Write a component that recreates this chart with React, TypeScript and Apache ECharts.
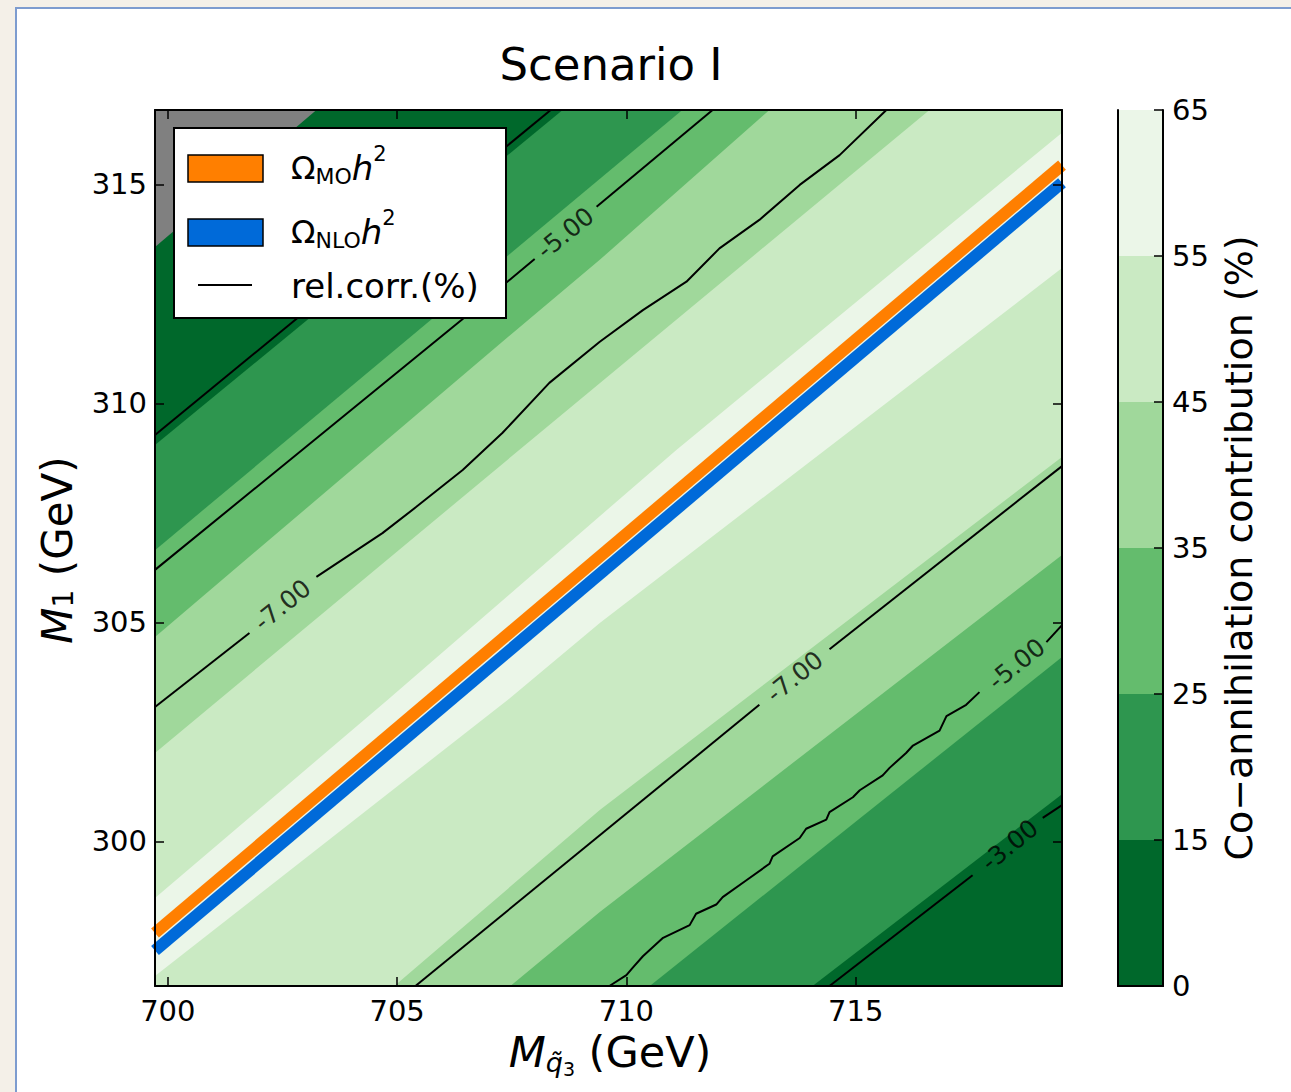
import React, { useEffect, useRef } from 'react';
import * as echarts from 'echarts';

const FONT = "'DejaVu Sans', 'Liberation Sans', sans-serif";

// ---- axes ----
const X_RANGE = [699.72, 719.5];
const Y_RANGE = [296.7, 316.7];
const X_TICKS = [700, 705, 710, 715];
const Y_TICKS = [300, 305, 310, 315];

// ---- colour bar ----
const LEVEL_LABELS = ['0', '15', '25', '35', '45', '55', '65'];
const LEVEL_COLORS = ['#00682b', '#2e964f', '#64bc6d', '#a0d89b', '#caeac3', '#ebf6e8'];
const MASK_COLOR = '#808080';

// ---- filled-contour boundaries (data coords) ----
// upper-left side: from left edge to top/right edge
const UPPER_15 = [[699.72, 309.05], [708.61, 316.7]];
const UPPER_25 = [[699.72, 306.65], [711.22, 316.7]];
const UPPER_35 = [[699.72, 304.67], [707.6, 311.68], [709.42, 313.28], [713.12, 316.7]];
const UPPER_45 = [[699.72, 302.02], [708.32, 309.51], [716.61, 316.7]];
const UPPER_55 = [[699.72, 298.71], [704.79, 303.23], [711.09, 308.94], [719.5, 316.18]];
// lower-right side: from bottom/left edge to right edge
const LOWER_55 = [[699.72, 296.93], [707.41, 303.23], [709.42, 304.99], [719.5, 313.09]];
const LOWER_45 = [[704.94, 296.7], [709.42, 300.72], [719.5, 308.78]];
const LOWER_35 = [[707.47, 296.7], [709.42, 298.39], [719.5, 306.54]];
const LOWER_25 = [[710.51, 296.7], [719.5, 304.21]];
const LOWER_15 = [[714.06, 296.7], [719.5, 301.08]];
// masked (no data) corner
const MASK_REGION = [[699.72, 316.7], [699.72, 313.57], [703.24, 316.7]];

// ---- rel. corr. contour lines (segments split at labels) ----
const C3_UPPER = [[699.72, 309.28], [708.35, 316.7]];
const C5_UPPER_A = [[699.72, 306.2], [706.41, 311.91], [708.0, 313.3]];
const C5_UPPER_B = [[709.35, 314.49], [711.88, 316.7]];
const C7_UPPER_A = [[699.72, 303.07], [701.78, 304.76]];
const C7_UPPER_B = [
  [703.24, 306.04], [704.68, 307.04], [705.42, 307.64], [706.43, 308.48], [707.3, 309.33],
  [708.32, 310.47], [709.42, 311.41], [710.36, 312.13], [711.31, 312.78], [712.03, 313.54],
  [712.9, 314.19], [713.78, 314.99], [714.65, 315.67], [715.67, 316.7],
];
const C7_LOWER_A = [[705.4, 296.7], [712.9, 303.12]];
const C7_LOWER_B = [[714.43, 304.39], [719.5, 308.57]];
const C5_LOWER_A = [
  [709.63, 296.7], [710.0, 296.95], [710.14, 297.12], [710.36, 297.38], [710.8, 297.8],
  [711.38, 298.09], [711.52, 298.35], [711.96, 298.56], [712.1, 298.73], [712.61, 299.11],
  [713.12, 299.49], [713.19, 299.66], [713.78, 300.08], [713.92, 300.29], [714.36, 300.5],
  [714.43, 300.67], [714.94, 301.01], [715.09, 301.17], [715.59, 301.51], [715.74, 301.68],
  [716.1, 302.02], [716.25, 302.19], [716.83, 302.53], [716.98, 302.86], [717.41, 303.12],
  [717.7, 303.41],
];
const C5_LOWER_B = [[719.16, 304.55], [719.5, 304.94]];
const C3_LOWER_A = [[714.43, 296.7], [717.55, 299.23]];
const C3_LOWER_B = [[719.08, 300.54], [719.5, 300.83]];
const CONTOURS = [C3_UPPER, C5_UPPER_A, C5_UPPER_B, C7_UPPER_A, C7_UPPER_B, C7_LOWER_A, C7_LOWER_B, C5_LOWER_A, C5_LOWER_B, C3_LOWER_A, C3_LOWER_B];

const CONTOUR_LABEL_TEXT = ['-5.00', '-7.00', '-7.00', '-5.00', '-3.00'];
const CONTOUR_LABEL_POS = [[708.67, 313.89], [702.5, 305.4], [713.67, 303.76], [718.51, 304.05], [718.36, 299.92]];

// ---- relic density curves ----
const OMEGA_MO = [[699.72, 297.91], [719.5, 315.44]];
const OMEGA_NLO = [[699.72, 297.51], [719.5, 315.04]];

const ORANGE = '#ff7f00';
const BLUE = '#006ad9';

export default function App() {
  const ref = useRef<HTMLDivElement>(null);

  useEffect(() => {
    const el = ref.current;
    if (!el) return;
    const chart = echarts.init(el, null, { renderer: 'svg' });

    const [xmin, xmax] = X_RANGE;
    const [ymin, ymax] = Y_RANGE;
    const farTR = [xmax + 2, ymax + 2];
    const farBL = [xmin - 2, ymin - 2];
    const strips = [
      [UPPER_15, LOWER_15],
      [UPPER_25, LOWER_25],
      [UPPER_35, LOWER_35],
      [UPPER_45, LOWER_45],
      [UPPER_55, LOWER_55],
    ];
    const fills = [
      { pts: [[xmin, ymin], [xmax, ymin], [xmax, ymax], [xmin, ymax]], color: LEVEL_COLORS[0] },
      ...strips.map(([u, l], i) => ({
        pts: [...u, farTR, ...l.slice().reverse(), farBL],
        color: LEVEL_COLORS[i + 1],
      })),
      { pts: MASK_REGION, color: MASK_COLOR },
    ];

    const axisLineStyle = { color: '#000', width: 2 };
    const tickStyle = { color: '#000', width: 1.5 };

    const mainX = (pos: 'bottom' | 'top', labels: boolean) => ({
      type: 'value',
      gridIndex: 0,
      position: pos,
      min: xmin,
      max: xmax,
      z: 10,
      axisLine: { show: true, onZero: false, lineStyle: axisLineStyle },
      axisTick: { show: true, inside: true, length: 9, lineStyle: tickStyle, customValues: X_TICKS },
      axisLabel: {
        show: labels,
        customValues: X_TICKS,
        color: '#000',
        fontSize: 29,
        fontFamily: FONT,
        margin: 10,
      },
      splitLine: { show: false },
    });
    const mainY = (pos: 'left' | 'right', labels: boolean) => ({
      type: 'value',
      gridIndex: 0,
      position: pos,
      min: ymin,
      max: ymax,
      z: 10,
      axisLine: { show: true, onZero: false, lineStyle: axisLineStyle },
      axisTick: { show: true, inside: true, length: 9, lineStyle: tickStyle, customValues: Y_TICKS },
      axisLabel: {
        show: labels,
        customValues: Y_TICKS,
        color: '#000',
        fontSize: 29,
        fontFamily: FONT,
        margin: 8,
      },
      splitLine: { show: false },
    });

    const contourSeries = CONTOURS.map((seg) => ({
      type: 'line',
      xAxisIndex: 0,
      yAxisIndex: 0,
      data: seg,
      symbol: 'none',
      silent: true,
      z: 5,
      lineStyle: { color: '#000', width: 2 },
    }));

    const mathRich = {
      o: { fontSize: 32, fontFamily: FONT, lineHeight: 40 },
      s: { fontSize: 22, fontFamily: FONT, padding: [16, 0, 0, 0] },
      h: { fontSize: 34, fontStyle: 'italic', fontFamily: FONT, lineHeight: 40 },
      p: { fontSize: 21, fontFamily: FONT, padding: [0, 0, 28, 0] },
    };
    const textAlignLeft = { align: 'left', verticalAlign: 'middle', textAlign: 'left', textVerticalAlign: 'middle' };
    const textAlignCenter = { align: 'center', verticalAlign: 'middle', textAlign: 'center', textVerticalAlign: 'middle' };

    const option: any = {
      animation: false,
      textStyle: { fontFamily: FONT },
      grid: [
        { left: 155, top: 110, width: 907, height: 876 },
        { left: 1118, top: 110, width: 45, height: 876 },
      ],
      xAxis: [
        mainX('bottom', true),
        mainX('top', false),
        {
          type: 'category', gridIndex: 1, position: 'bottom', data: ['cb'], z: 10,
          axisLine: { show: true, lineStyle: axisLineStyle }, axisTick: { show: false }, axisLabel: { show: false },
        },
        {
          type: 'category', gridIndex: 1, position: 'top', data: ['cb'], z: 10,
          axisLine: { show: true, lineStyle: axisLineStyle }, axisTick: { show: false }, axisLabel: { show: false },
        },
      ],
      yAxis: [
        mainY('left', true),
        mainY('right', false),
        {
          type: 'value', gridIndex: 1, position: 'right', min: 0, max: 6, interval: 1, z: 10,
          axisLine: { show: true, lineStyle: axisLineStyle },
          axisTick: { show: true, inside: true, length: 9, lineStyle: tickStyle },
          axisLabel: {
            show: true, color: '#000', fontSize: 29, fontFamily: FONT, margin: 9,
            showMinLabel: true, showMaxLabel: true,
            formatter: (v: number) => LEVEL_LABELS[Math.round(v)],
          },
          splitLine: { show: false },
        },
        {
          type: 'value', gridIndex: 1, position: 'left', min: 0, max: 6, z: 10,
          axisLine: { show: true, lineStyle: axisLineStyle },
          axisTick: { show: false }, axisLabel: { show: false }, splitLine: { show: false },
        },
      ],
      series: [
        {
          type: 'custom',
          xAxisIndex: 0,
          yAxisIndex: 0,
          silent: true,
          clip: true,
          z: 1,
          data: fills.map((_, k) => [xmin, ymin, k]),
          renderItem: (params: any, api: any) => {
            const f = fills[api.value(2)];
            const cs = params.coordSys;
            return {
              type: 'polygon',
              shape: { points: f.pts.map((p) => api.coord(p)) },
              style: { fill: f.color },
              clipPath: { type: 'rect', shape: { x: cs.x, y: cs.y, width: cs.width, height: cs.height } },
            };
          },
        },
        ...contourSeries,
        {
          type: 'line', xAxisIndex: 0, yAxisIndex: 0, data: OMEGA_MO, symbol: 'none', silent: true, z: 6,
          lineStyle: { color: ORANGE, width: 12 },
        },
        {
          type: 'line', xAxisIndex: 0, yAxisIndex: 0, data: OMEGA_NLO, symbol: 'none', silent: true, z: 6,
          lineStyle: { color: BLUE, width: 12 },
        },
        {
          type: 'scatter', xAxisIndex: 0, yAxisIndex: 0, symbolSize: 0, silent: true, z: 7,
          data: CONTOUR_LABEL_POS.map((p, i) => ({ value: p, name: CONTOUR_LABEL_TEXT[i] })),
          label: {
            show: true, position: 'inside', formatter: '{b}', rotate: 39, color: '#000',
            fontSize: 25, fontFamily: FONT, align: 'center', verticalAlign: 'middle',
          },
        },
        ...LEVEL_COLORS.map((c) => ({
          type: 'bar', xAxisIndex: 2, yAxisIndex: 2, stack: 'cb', data: [1], barWidth: '100%',
          silent: true, itemStyle: { color: c }, z: 2,
        })),
      ],
      graphic: [
        {
          type: 'text', x: 611, y: 64, z: 100,
          style: { text: 'Scenario I', fontSize: 45, fontFamily: FONT, fill: '#000', ...textAlignCenter },
        },
        {
          type: 'text', x: 610, y: 1052, z: 100,
          style: {
            text: '{m|M}{s|q\u0303}{ss|3}{n| (GeV)}', fill: '#000', fontFamily: FONT,
            ...textAlignCenter,
            rich: {
              m: { fontSize: 43, fontStyle: 'italic', fontFamily: FONT, lineHeight: 50 },
              s: { fontSize: 27, fontStyle: 'italic', fontFamily: FONT, padding: [20, 0, 0, 0] },
              ss: { fontSize: 19, fontFamily: FONT, padding: [34, 0, 0, 0] },
              n: { fontSize: 43, fontFamily: FONT, lineHeight: 50 },
            },
          },
        },
        {
          type: 'text', x: 57, y: 550, rotation: Math.PI / 2, z: 100,
          style: {
            text: '{m|M}{s|1}{n| (GeV)}', fill: '#000', fontFamily: FONT,
            ...textAlignCenter,
            rich: {
              m: { fontSize: 42, fontStyle: 'italic', fontFamily: FONT, lineHeight: 50 },
              s: { fontSize: 28, fontFamily: FONT, padding: [12, 0, 0, 0] },
              n: { fontSize: 42, fontFamily: FONT, lineHeight: 50 },
            },
          },
        },
        {
          type: 'text', x: 1239, y: 548, rotation: Math.PI / 2, z: 100,
          style: { text: 'Co\u2212annihilation contribution (%)', fontSize: 38, fontFamily: FONT, fill: '#000', ...textAlignCenter },
        },
        // legend
        { type: 'rect', z: 100, shape: { x: 174, y: 128, width: 332, height: 190 }, style: { fill: '#fff', stroke: '#000', lineWidth: 2 } },
        { type: 'rect', z: 101, shape: { x: 188, y: 155, width: 75, height: 27 }, style: { fill: ORANGE, stroke: '#000', lineWidth: 1.5 } },
        { type: 'rect', z: 101, shape: { x: 188, y: 219, width: 75, height: 27 }, style: { fill: BLUE, stroke: '#000', lineWidth: 1.5 } },
        { type: 'line', z: 101, shape: { x1: 198, y1: 285, x2: 252, y2: 285 }, style: { stroke: '#000', lineWidth: 1.8 } },
        {
          type: 'text', z: 101, x: 291, y: 168,
          style: { text: '{o|\u03A9}{s|MO}{h|h}{p|2}', fill: '#000', fontFamily: FONT, ...textAlignLeft, rich: mathRich },
        },
        {
          type: 'text', z: 101, x: 291, y: 232,
          style: { text: '{o|\u03A9}{s|NLO}{h|h}{p|2}', fill: '#000', fontFamily: FONT, ...textAlignLeft, rich: mathRich },
        },
        {
          type: 'text', z: 101, x: 291, y: 286,
          style: { text: 'rel.corr.(%)', fontSize: 34, fontFamily: FONT, fill: '#000', ...textAlignLeft },
        },
      ],
    };

    chart.setOption(option);
    return () => chart.dispose();
  }, []);

  return (
    <div style={{ position: 'fixed', left: 0, top: 0, width: 1291, height: 1092, background: '#f4f0e8', overflow: 'hidden' }}>
      <div
        style={{
          position: 'absolute', left: 15, top: 7, width: 1291, height: 1092,
          background: '#fff', borderLeft: '2px solid #7d9ccf', borderTop: '2px solid #7d9ccf',
        }}
      />
      <div ref={ref} style={{ position: 'absolute', left: 0, top: 0, width: 1291, height: 1092 }} />
    </div>
  );
}
